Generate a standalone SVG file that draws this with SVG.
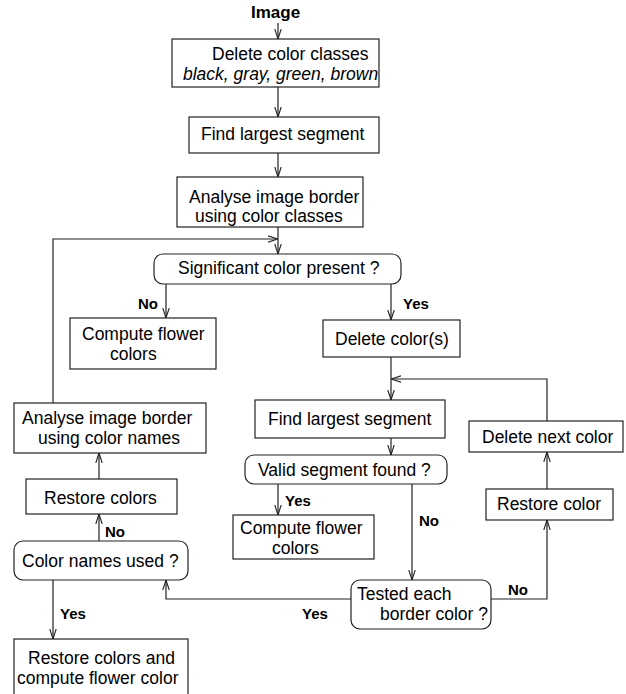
<svg xmlns="http://www.w3.org/2000/svg" width="626" height="694" viewBox="0 0 626 694">
<style>
.b{fill:#fff;stroke:#222;stroke-width:1.2}
.t{font-family:"Liberation Sans",Arial,sans-serif;font-size:17.5px;fill:#000}
.i{font-style:italic}
.l{font-family:"Liberation Sans",Arial,sans-serif;font-size:15px;font-weight:bold;fill:#000}
.c{fill:none;stroke:#222;stroke-width:1.2;marker-end:url(#a)}
</style>
<defs>
<marker id="a" markerUnits="userSpaceOnUse" viewBox="0 0 10 8" refX="10" refY="4" markerWidth="10" markerHeight="8" orient="auto">
<path d="M0,0.8 L10,4 L0,7.2" fill="none" stroke="#222" stroke-width="1.1"/>
</marker>
</defs>
<g id="connectors">
<path class="c" d="M278,23 V39"/>
<path class="c" d="M278,87 V117"/>
<path class="c" d="M278,153 V177"/>
<path class="c" d="M278,227 V254"/>
<path class="c" d="M53,403 V239 H278"/>
<path class="c" d="M166,284 V318"/>
<path class="c" d="M391,284 V320"/>
<path class="c" d="M391,357 V400"/>
<path class="c" d="M547,421 V379 H391"/>
<path class="c" d="M391,438 V455"/>
<path class="c" d="M278,484 V515"/>
<path class="c" d="M412,484 V580"/>
<path class="c" d="M491,599 H547 V520"/>
<path class="c" d="M547,489 V452"/>
<path class="c" d="M351,599 H166 V580"/>
<path class="c" d="M53,580 V639"/>
<path class="c" d="M99,541 V514"/>
<path class="c" d="M99,479 V453"/>
<text class="l" x="138" y="309">No</text>
<text class="l" x="403" y="309">Yes</text>
<text class="l" x="285" y="506">Yes</text>
<text class="l" x="419" y="526">No</text>
<text class="l" x="508" y="595">No</text>
<text class="l" x="302" y="619">Yes</text>
<text class="l" x="60" y="619">Yes</text>
<text class="l" x="105" y="537">No</text>
</g>
<g id="image"><text x="251" y="18" style="font-family:'Liberation Sans',Arial,sans-serif;font-size:17px;font-weight:bold">Image</text></g>
<g id="deleteClasses"><rect class="b" x="172" y="39" width="207" height="48"/><text class="t" x="212" y="60">Delete color classes</text><text class="t i" x="183" y="79.5">black, gray, green, brown</text></g>
<g id="findLargest1"><rect class="b" x="189" y="117" width="190" height="36"/><text class="t" x="201" y="140">Find largest segment</text></g>
<g id="analyseClasses"><rect class="b" x="177" y="177" width="186" height="50"/><text class="t" x="189" y="202.5">Analyse image border</text><text class="t" x="195" y="222">using color classes</text></g>
<g id="significant"><rect class="b" x="154" y="254" width="247" height="30" rx="9"/><text class="t" x="178" y="274">Significant color present ?</text></g>
<g id="computeFlower1"><rect class="b" x="70" y="318" width="146" height="51"/><text class="t" x="82" y="340">Compute flower</text><text class="t" x="110" y="359.5">colors</text></g>
<g id="deleteColors"><rect class="b" x="323" y="320" width="137" height="37"/><text class="t" x="335" y="344.5">Delete color(s)</text></g>
<g id="findLargest2"><rect class="b" x="255" y="400" width="190" height="38"/><text class="t" x="268" y="425">Find largest segment</text></g>
<g id="deleteNext"><rect class="b" x="469" y="421" width="154" height="31"/><text class="t" x="482" y="443">Delete next color</text></g>
<g id="validSegment"><rect class="b" x="245" y="455" width="202" height="29" rx="9"/><text class="t" x="258" y="476">Valid segment found ?</text></g>
<g id="computeFlower2"><rect class="b" x="233" y="515" width="141" height="44"/><text class="t" x="240" y="534">Compute flower</text><text class="t" x="272" y="553.5">colors</text></g>
<g id="restoreColor"><rect class="b" x="486" y="489" width="127" height="31"/><text class="t" x="497" y="510">Restore color</text></g>
<g id="testedEach"><rect class="b" x="351" y="580" width="140" height="49" rx="9"/><text class="t" x="357" y="600">Tested each</text><text class="t" x="380" y="620">border color ?</text></g>
<g id="analyseNames"><rect class="b" x="14" y="403" width="192" height="50"/><text class="t" x="22" y="424">Analyse image border</text><text class="t" x="38" y="443.5">using color names</text></g>
<g id="restoreColors"><rect class="b" x="26" y="479" width="151" height="35"/><text class="t" x="44" y="503.5">Restore colors</text></g>
<g id="colorNamesUsed"><rect class="b" x="14" y="541" width="174" height="39" rx="9"/><text class="t" x="22" y="566.5">Color names used ?</text></g>
<g id="restoreCompute"><rect class="b" x="14" y="639" width="174" height="62"/><text class="t" x="28" y="664">Restore colors and</text><text class="t" x="17" y="683.5">compute flower color</text></g>
</svg>
